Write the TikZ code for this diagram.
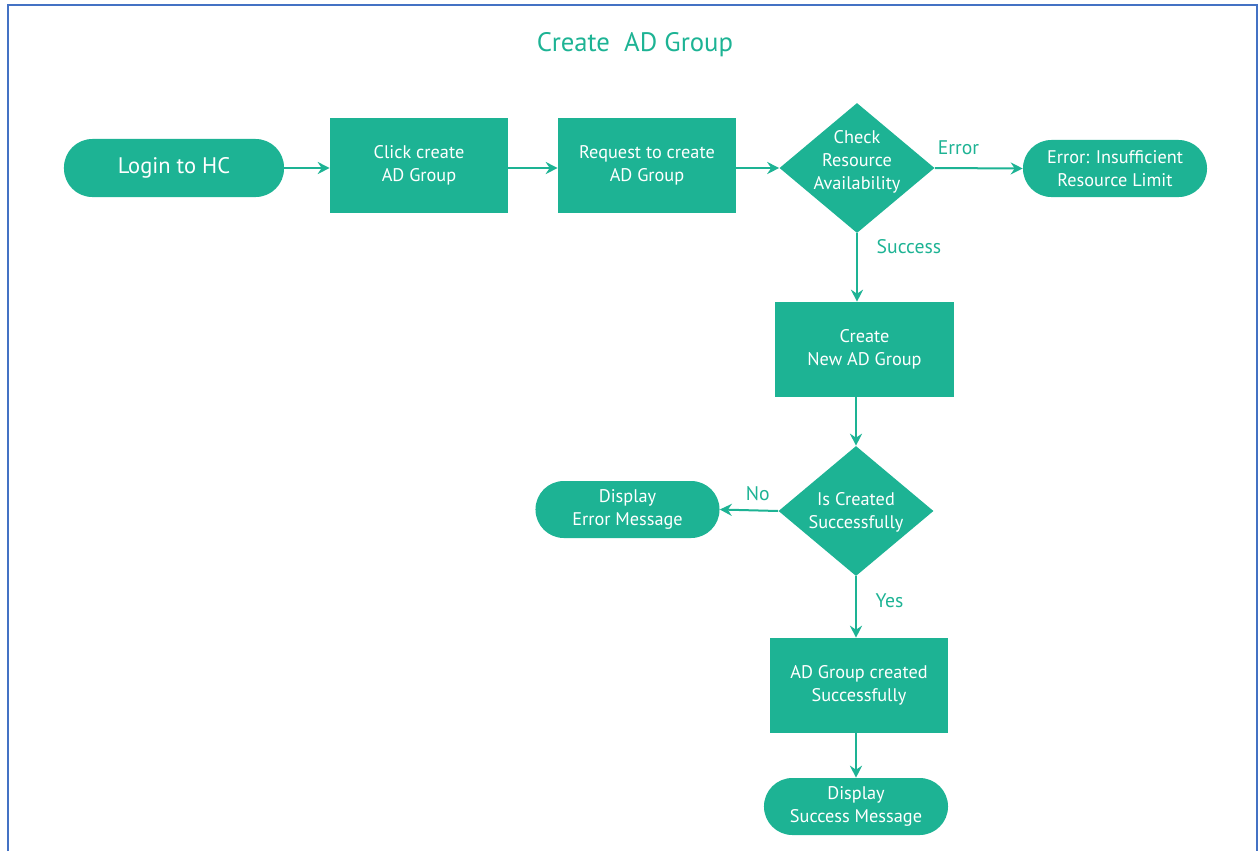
\documentclass[tikz,border=0pt]{standalone}
\usepackage{fontspec}
\setmainfont{PT Sans}
\usetikzlibrary{shapes.geometric,arrows.meta,positioning}
\definecolor{flowGreen}{HTML}{1DB394}
\definecolor{frameBlue}{HTML}{4472C4}
\newcommand{\dtext}[2][-0.3em]{\smash{\raisebox{#1}{\makebox[0pt]{\begin{tabular}{@{}c@{}}#2\end{tabular}}}}}

\begin{document}
\begin{tikzpicture}[x=0.025cm,y=-0.025cm,
    txt/.style={text=white,align=center,font=\fontsize{13}{16.4}\selectfont},
    process/.style={txt,fill=flowGreen,minimum width=44.5mm,minimum height=23.75mm,inner sep=0},
    terminal/.style={txt,fill=flowGreen,minimum width=46mm,minimum height=14.25mm,rounded corners=7.1mm,inner sep=0},
    decision/.style={txt,fill=flowGreen,diamond,inner sep=0,minimum width=38.75mm,minimum height=32.5mm},
    flow/.style={flowGreen,line width=0.5mm,-{Stealth[length=3mm,width=3mm,inset=1mm]}},
    lbl/.style={text=flowGreen,font=\fontsize{14}{16}\selectfont}]
    \useasboundingbox (0,0) rectangle (1259,851);
    \draw [frameBlue,line width=0.5mm] (8,851) -- (8,5) -- (1257,5) -- (1257,851);

    \node[text=flowGreen,font=\fontsize{19}{22}\selectfont] (title) at (635,45) {Create\ \ AD Group};

    \node[terminal,minimum width=55mm,minimum height=14.5mm,font=\fontsize{16}{19}\selectfont] (login) at (174,168) {Login to HC};
    \node[process] (click) at (419,165.5) {Click create\\AD Group};
    \node[process] (req) at (647,165.5) {Request to create\\AD Group};
    \node[decision] (chk) at (857,168) {\dtext[0.1em]{Check\\Resource\\Availability}};
    \node[terminal] (limit) at (1115,168.5) {Error: Insufficient\\Resource Limit};
    \node[process] (newgrp) at (864.5,349.5) {Create\\New AD Group};
    \node[decision] (isok) at (856,511) {\dtext{Is Created\\Successfully}};
    \node[terminal] (errmsg) at (627.5,509.5) {Display\\Error Message};
    \node[process] (done) at (859,685.5) {AD Group created\\Successfully};
    \node[terminal] (okmsg) at (856,806.5) {Display\\Success Message};

    \draw [flow] (login.east) -- (login.east -| click.west);
    \draw [flow] (click.east |- login) -- (req.west |- login);
    \draw [flow] (req.east |- chk) -- (chk.west);
    \draw [flow] (chk.east) -- (limit.west) node[lbl,above=2mm,pos=0.27] {Error};
    \draw [flow] (chk.south) -- (chk.south |- newgrp.north) node[lbl,anchor=west,pos=0.19,xshift=3.5mm] {Success};
    \draw [flow] (newgrp.south -| isok.north) -- (isok.north);
    \draw [flow] (isok.west) -- (errmsg.east) node[lbl,above=1mm,pos=0.35] {No};
    \draw [flow] (isok.south) -- (isok.south |- done.north) node[lbl,anchor=west,pos=0.4,xshift=3.5mm] {Yes};
    \draw [flow] (done.south -| okmsg.north) -- (okmsg.north);
\end{tikzpicture}
\end{document}
